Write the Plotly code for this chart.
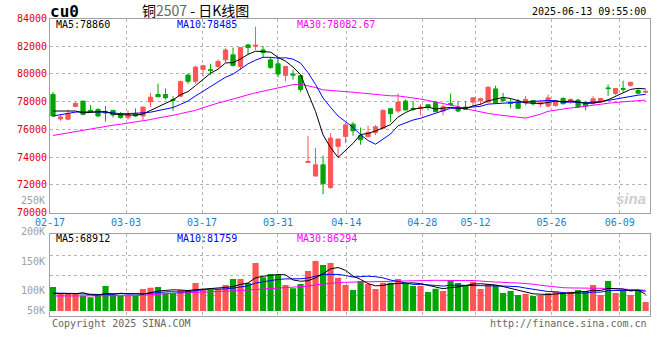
import plotly.graph_objects as go

# ---------------- data ----------------
opens = [78522, 76760, 76736, 77665, 78046, 77379, 77450, 77284, 77379, 77141,
         76855, 77141, 76974, 78000, 78522, 78522, 78165, 78402, 79926, 79474,
         80331, 80307, 80545, 81021, 81378, 80545, 82093, 81997, 81735, 81021,
         80735, 79902, 79997, 79878, 73616, 72640, 73450, 71807, 74783, 75497,
         76378, 75545, 75473, 75783, 76093, 77497, 77331, 78045, 77521, 77521,
         77783, 77973, 77331, 77878, 77616, 77616, 77973, 78093, 77973, 78926,
         78212, 77973, 78045, 77926, 78093, 77831, 77688, 77735, 78235, 77997,
         78116, 77926, 77855, 77997, 78997, 78593, 78950, 79188, 78807, 78688]
highs = [78712, 77045, 77430, 77970, 78050, 77760, 77522, 77688, 77379, 77260,
         77379, 77522, 77617, 78641, 79310, 78950, 78403, 79521, 80021, 80592,
         80664, 80735, 81069, 81855, 81902, 81902, 82164, 83400, 82021, 81212,
         81212, 80545, 80307, 79878, 75545, 74664, 74116, 75735, 75307, 76497,
         76545, 76140, 76259, 76307, 77450, 77497, 78593, 78164, 78045, 77807,
         77783, 78045, 77807, 78593, 78045, 78045, 78283, 78283, 79116, 79164,
         78640, 78212, 78212, 78402, 78093, 78116, 78521, 78093, 78331, 78235,
         78212, 78045, 78402, 78283, 79235, 78997, 79521, 79402, 78950, 78878]
lows = [76930, 76620, 76690, 77640, 77020, 77260, 76903, 76569, 76855, 76784,
        76712, 76903, 76665, 77617, 78355, 78165, 77350, 78331, 79307, 79307,
        79831, 79950, 80426, 80831, 80545, 80307, 81378, 81735, 81188, 80378,
        79759, 79474, 79593, 78688, 73600, 72640, 71330, 71736, 73997, 75021,
        75545, 74902, 75473, 75593, 76021, 76545, 77211, 77378, 77331, 77021,
        77378, 77259, 77021, 77735, 77259, 77402, 77688, 77735, 77926, 77878,
        77973, 77521, 77521, 77735, 77735, 77616, 77640, 77640, 77807, 77855,
        77545, 77378, 77807, 77926, 78402, 78474, 78688, 79069, 78569, 78593]
closes = [76974, 76903, 77141, 77879, 77093, 77284, 76974, 77188, 77045, 76855,
          77093, 76974, 77617, 78331, 78355, 78284, 78093, 79450, 79474, 80497,
          80592, 80259, 80902, 81735, 80616, 81902, 81902, 82069, 81545, 80473,
          79997, 80545, 79926, 78878, 73688, 73450, 72093, 75378, 75307, 76331,
          75902, 75259, 75783, 76188, 77378, 77140, 77973, 77402, 77450, 77616,
          77616, 77283, 77640, 77807, 77331, 77450, 78283, 78212, 79045, 77926,
          78093, 77878, 77521, 78164, 77855, 77926, 78283, 78045, 77855, 78164,
          77616, 77688, 78212, 78235, 78950, 78950, 78902, 79402, 78617, 78736]
volumes = [104000, 77000, 77000, 74000, 65000, 59500, 72400, 108600, 69500, 66600,
           66600, 66600, 95600, 101000, 104000, 79600, 79600, 91000, 91000, 121700,
           91000, 91000, 95600, 113000, 139000, 139000, 121700, 208600, 146400, 160800,
           156400, 113000, 98500, 117300, 173800, 217000, 200000, 208600, 144800, 113000,
           91000, 130000, 117000, 95600, 123000, 123000, 139000, 117000, 108600, 108600,
           82600, 97000, 87000, 134700, 121700, 113000, 127400, 95600, 117000, 113000,
           78000, 87000, 69500, 74000, 65000, 69500, 78000, 84000, 78000, 84000,
           91000, 87000, 113000, 69500, 130000, 78000, 87000, 69500, 91000, 39000]

# moving-average values before enough history is on the chart
ma5_head = [77330, 77330, 77330, 77330]
ma10_head = [76970, 77080, 77160, 77250, 77270, 77270, 77260, 77250, 77200]
ma30_head = [75570, 75665, 75736, 75855, 75974, 76046, 76141, 76212, 76307, 76379,
             76450, 76545, 76617, 76712, 76831, 76903, 77022, 77141, 77236, 77379,
             77569, 77760, 77903, 78046, 78212, 78355, 78497, 78640, 78759]
vma5_head = [76000, 76000, 76000, 75000]
vma10_head = [78000, 78000, 77000, 76000, 74000, 72000, 71000, 71000, 71000]
vma30_head = [65200, 65200, 65200, 65200, 65200, 65200, 65200, 65200, 65200, 65200,
              65500, 66600, 69500, 71500, 73800, 75000, 76700, 78000, 79600, 80500,
              81500, 82500, 84000, 85400, 87000, 89000, 91200, 93000, 95000]

tick_idx = [0, 10, 20, 30, 39, 49, 56, 66, 75]
tick_labels = ["02-17", "03-03", "03-17", "03-31", "04-14", "04-28", "05-12", "05-26", "06-09"]
price_ticks = [70000, 72000, 74000, 76000, 78000, 80000, 82000, 84000]
vol_label_text = ["250K", "200K", "150K", "100K", "50K"]
price_legend = ["MA5:78860", "MA10:78485", "MA30:78082.67"]
vol_legend = ["MA5:68912", "MA10:81759", "MA30:86294"]
title_code = "cu0"
title_name = "铜"
title_contract = "2507"
title_rest = " - 日K线图"
timestamp = "2025-06-13 09:55:00"
footer_left = "Copyright 2025 SINA.COM"
footer_right = "http://finance.sina.com.cn"


def moving_avg(vals, n, head):
    out = list(head)
    for i in range(len(head), len(vals)):
        out.append(sum(vals[i - n + 1:i + 1]) / n)
    return out


# ---------------- styles ----------------
W, H = 660, 360
RED = "#ff5555"
GREEN = "#00a600"
GRID = "#b4b4b4"
BORDER = "#a0a0a0"
MONO = "DejaVu Sans Mono, Liberation Mono, monospace"
LABEL_GRAY = "#a0a0a0"


def px(x):
    return x / W


def py(y):
    return 1 - y / H


x = list(range(len(closes)))
bar_colors = [RED if c >= o else GREEN for o, c in zip(opens, closes)]
tick_pos = [i * 1.0127 - 0.39 for i in tick_idx]
xdom = [px(50), px(649.5)]
xrange_ = [-0.4, 79.52]
vol_per_px = 4345.0

fig = go.Figure()
fig.add_trace(go.Candlestick(
    x=x, open=opens, high=highs, low=lows, close=closes,
    increasing=dict(line=dict(color=RED, width=1), fillcolor=RED),
    decreasing=dict(line=dict(color=GREEN, width=1), fillcolor=GREEN),
    whiskerwidth=0, xaxis="x", yaxis="y", hoverinfo="skip"))

for vals, n, head, col in [(closes, 30, ma30_head, "#ff00ff"),
                           (closes, 10, ma10_head, "#0000ff"),
                           (closes, 5, ma5_head, "#000000")]:
    fig.add_trace(go.Scatter(x=x, y=moving_avg(vals, n, head), mode="lines",
                             line=dict(color=col, width=1), xaxis="x", yaxis="y",
                             hoverinfo="skip"))

fig.add_trace(go.Bar(x=x, y=volumes, width=0.82, marker=dict(color=bar_colors, line=dict(width=0)),
                     xaxis="x2", yaxis="y2", hoverinfo="skip"))
for vals, n, head, col in [(volumes, 30, vma30_head, "#ff00ff"),
                           (volumes, 10, vma10_head, "#0000ff"),
                           (volumes, 5, vma5_head, "#000000")]:
    fig.add_trace(go.Scatter(x=x, y=moving_avg(vals, n, head), mode="lines",
                             line=dict(color=col, width=1), xaxis="x2", yaxis="y2",
                             hoverinfo="skip"))

axis_common = dict(showgrid=True, gridcolor=GRID, griddash="dot", gridwidth=1,
                   showline=True, linecolor=BORDER, linewidth=1, mirror=True,
                   zeroline=False, fixedrange=True, ticks="", automargin=False)

fig.update_layout(
    width=W, height=H, margin=dict(l=0, r=0, t=0, b=0, pad=0, autoexpand=False),
    paper_bgcolor="white", plot_bgcolor="white", showlegend=False, boxgap=0.2,
    xaxis=dict(domain=xdom, range=xrange_, tickmode="array", tickvals=tick_pos,
               ticktext=tick_labels, anchor="y",
               tickfont=dict(family=MONO, size=10, color="#1a7fd0"),
               rangeslider=dict(visible=False), **axis_common),
    yaxis=dict(domain=[py(212.7), py(18.5)], range=[70000, 84000], tickmode="array",
               tickvals=price_ticks, ticktext=[str(v) for v in price_ticks], anchor="x",
               tickfont=dict(family=MONO, size=10, color="#e00000"), **axis_common),
    xaxis2=dict(domain=xdom, range=xrange_, tickmode="array", tickvals=tick_pos,
                showticklabels=False, anchor="y2", **axis_common),
    yaxis2=dict(domain=[py(315.7), py(234.3)],
                range=[-(315.7 - 311) * vol_per_px, (311 - 234.3) * vol_per_px],
                tickmode="array",
                tickvals=[(311 - 295) * vol_per_px, (311 - 275) * vol_per_px, (311 - 255) * vol_per_px],
                showticklabels=False, anchor="x2", **axis_common),
)

ann = []


def text(xp, yp, s, color="#000000", size=10, anchor="left", family=MONO):
    ann.append(dict(x=px(xp), y=py(yp), xref="paper", yref="paper", text=s, showarrow=False,
                    xanchor=anchor, yanchor="middle", font=dict(family=family, size=size, color=color)))


text(48, 11, "<b>" + title_code + "</b>", size=16)
text(140, 10, title_name + "<span style='color:#666666'>" + title_contract + "</span>" + title_rest,
     size=14, family="Noto Sans CJK SC")
text(648, 12, timestamp, anchor="right")
for xp, s, c in zip([54, 175, 295], price_legend, ["#000000", "#0000ff", "#ff00ff"]):
    text(xp, 24.5, s, color=c)
for xp, s, c in zip([54, 175, 295], vol_legend, ["#000000", "#0000ff", "#ff00ff"]):
    text(xp, 238.5, s, color=c)
for yp, s in zip([200.5, 231.5, 261, 290.8, 310.5], vol_label_text):
    text(46.5, yp, s, color=LABEL_GRAY, anchor="right")
text(50, 323.5, footer_left, color="#666666")
text(649, 323.5, footer_right, color="#666666", anchor="right")
text(648, 198, "<b><i>sina</i></b>", color="#cfcfcf", size=15, anchor="right",
     family="Liberation Sans, Arial, sans-serif")

fig.update_layout(annotations=ann)
fig.write_html("out.html", config={"displayModeBar": False},
               post_script="document.body.style.margin='0';document.body.style.padding='0';")
